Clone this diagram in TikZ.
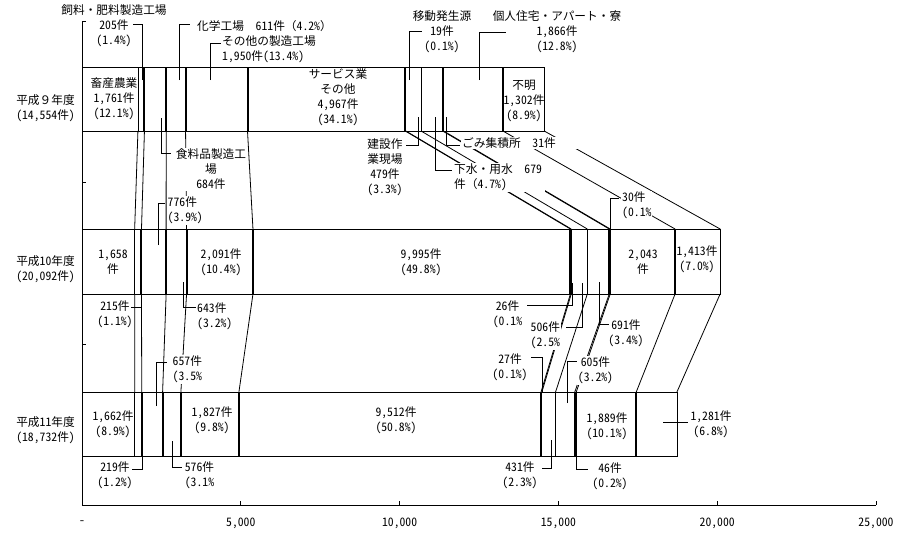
\documentclass[tikz,border=0pt]{standalone}
\usepackage{fontspec}
\setmainfont{Noto Sans CJK JP}[RawFeature=+hwid]
\newfontfamily\zen{Noto Sans CJK JP}

\begin{document}
\begin{tikzpicture}[x=1pt, y=-1pt,
    lbl/.style={font=\fontsize{11.7}{15}\selectfont, align=center, inner sep=1pt},
    mask/.style={lbl, fill=white},
    link/.style={line width=0.8pt},
    lead/.style={line width=0.8pt},
    septhin/.style={line width=0.8pt},
    sepbold/.style={line width=2pt},
    ]
    \useasboundingbox (0,0) rectangle (899,536);

    % bars: one coordinate pair per boundary (values in thousands)
    \foreach \v/\w [count=\i] in {0/septhin,1.761/septhin,1.966/sepbold,2.650/sepbold,3.261/sepbold,5.211/sepbold,10.178/sepbold,10.197/septhin,10.676/septhin,11.355/sepbold,11.386/septhin,13.252/sepbold,14.554/septhin}{
        \coordinate (h9t\i) at ({82+\v*31.76},67);
        \coordinate (h9b\i) at ({82+\v*31.76},131);
        \draw[\w] (h9t\i) -- (h9b\i);
    }
    \foreach \v/\w [count=\i] in {0/septhin,1.658/septhin,1.873/sepbold,2.649/sepbold,3.292/sepbold,5.383/sepbold,15.378/sepbold,15.404/septhin,15.910/septhin,16.601/sepbold,16.631/septhin,18.674/sepbold,20.092/septhin}{
        \coordinate (h10t\i) at ({82+\v*31.76},229);
        \coordinate (h10b\i) at ({82+\v*31.76},294);
        \draw[\w] (h10t\i) -- (h10b\i);
    }
    \foreach \v/\w [count=\i] in {0/septhin,1.662/septhin,1.881/sepbold,2.538/sepbold,3.114/sepbold,4.941/sepbold,14.453/sepbold,14.480/septhin,14.911/septhin,15.516/sepbold,15.562/septhin,17.451/sepbold,18.732/septhin}{
        \coordinate (h11t\i) at ({82+\v*31.76},392);
        \coordinate (h11b\i) at ({82+\v*31.76},456);
        \draw[\w] (h11t\i) -- (h11b\i);
    }
    \draw[septhin] (h9t1) rectangle (h9b13);
    \draw[septhin] (h10t1) rectangle (h10b13);
    \draw[septhin] (h11t1) rectangle (h11b13);

    % links between years
    \foreach \i in {2,...,13}{
        \draw[link] (h9b\i) -- (h10t\i);
        \draw[link] (h10b\i) -- (h11t\i);
    }

    % labels inside the bars
    \node[lbl] (i1761) at (114,99) {畜産農業\\1,761件\\(12.1\%)};
    \node[lbl] (i4967) at (338,97.5) {サービス業\\その他\\4,967件\\(34.1\%)};
    \node[lbl] (i1302) at (524,101) {不明\\1,302件\\(8.9\%)};
    \node[lbl] (i1658) at (113,262.5) {1,658\\件};
    \node[lbl] (i2091) at (221,262.5) {2,091件\\(10.4\%)};
    \node[lbl] (i9995) at (421,262.5) {9,995件\\(49.8\%)};
    \node[lbl] (i2043) at (643,262.5) {2,043\\件};
    \node[lbl] (i1413) at (697,259.5) {1,413件\\(7.0\%)};
    \node[lbl] (i1662) at (113,424.5) {1,662件\\(8.9\%)};
    \node[lbl] (i1827) at (212,420.5) {1,827件\\(9.8\%)};
    \node[lbl] (i9512) at (396,420.5) {9,512件\\(50.8\%)};
    \node[lbl] (i1889) at (607,426.5) {1,889件\\(10.1\%)};

    % labels outside the bars
    \node[mask] (t205) at (114,10) {飼料・肥料製造工場};
    \node[mask] (l205) at (114,33.5) {205件\\(1.4\%)};
    \node[mask, anchor=west] (l611) at (196,26) {化学工場{\zen　}611件{\zen（}4.2\%{\zen）}};
    \node[mask, anchor=west, align=left] (l1950) at (221,49.5) {その他の製造工場\\1,950件(13.4\%)};
    \node[mask] (l19) at (442,32) {移動発生源\\19件\\(0.1\%)};
    \node[mask] (l1866) at (557,32) {個人住宅・アパート・寮\\1,866件\\(12.8\%)};
    \node[mask] (l479) at (385,167.5) {建設作\\業現場\\479件\\(3.3\%)};
    \node[mask, anchor=west, align=left, text width=118pt] (l31) at (461,143) {ごみ集積所{\zen　}31件};
    \node[mask, anchor=west, align=left, text width=90pt] (l679) at (453,177.5) {下水・用水{\zen　}679\\件{\zen（}4.7\%)};
    \node[mask] (l684) at (211,169.5) {食料品製造工\\場\\684件};
    \node[mask, anchor=west, align=left] (l776) at (166.5,210.5) {776件\\(3.9\%)};
    \node[mask, anchor=west, align=left] (l30) at (621,205.5) {30件\\(0.1\%};
    \node[mask] (l215) at (115,314.5) {215件\\(1.1\%)};
    \node[mask, anchor=west, align=left] (l643) at (196,316.5) {643件\\(3.2\%)};
    \node[mask] (l26) at (507.5,314.5) {26件\\(0.1\%};
    \node[mask, anchor=west, align=left] (l506) at (529.5,335.5) {506件\\(2.5\%};
    \node[mask] (l691) at (626,333.5) {691件\\(3.4\%)};
    \node[mask] (l27) at (510,367.5) {27件\\(0.1\%)};
    \node[mask, anchor=west, align=left] (l657) at (171.5,369.5) {657件\\(3.5\%};
    \node[mask] (l605) at (595.5,370.5) {605件\\(3.2\%)};
    \node[mask] (l1281) at (711,424.5) {1,281件\\(6.8\%)};
    \node[mask] (l219) at (115,475.5) {219件\\(1.2\%)};
    \node[mask] (l576) at (199.5,475.5) {576件\\(3.1\%};
    \node[mask] (l431) at (520,475.5) {431件\\(2.3\%)};
    \node[mask] (l46) at (610,476.5) {46件\\(0.2\%)};

    % leaders: bar end, label end
    \foreach \n/\bx/\by/\ex/\ey in {205/142/80/133/24, 611/179/80/190/24, 1950/210/80/221/43,
        19/409/80/422/31, 1866/479/80/506/32, 479/418/117/406/145, 679/435/117/452/170,
        31/446/117/460/145, 684/161/118/171/153, 776/158/245/165/203, 30/610/229/619/198,
        215/141/307/131/307, 643/183/282/196/307, 26/572/283/527/305, 506/582/283/566/327,
        691/599/282/609/324, 657/156/406/167/362, 27/542/392/531/357, 605/567/403/577/361,
        1281/663/422/688/422, 219/142/456/132/469, 576/172/441/182/467, 431/551/440/542/468,
        46/576/456/588/469}{
        \coordinate (k\n) at (\bx,\by);
        \coordinate (e\n) at (\ex,\ey);
        \draw[lead] (k\n) |- (e\n);
    }

    % axes
    \coordinate (ytop) at (82,21);
    \coordinate (o) at (82,505);
    \coordinate (xend) at (876,505);
    \draw[septhin] (ytop) -- (o) -- (xend);
    \foreach \y in {21,182,344}
        \draw[septhin] (82,\y) -- (86,\y);
    \foreach \v/\t in {0/-,5/{5,000},10/{10,000},15/{15,000},20/{20,000},25/{25,000}}{
        \draw[septhin] ({82+\v*31.76},505) -- ({82+\v*31.76},501);
        \node[lbl] (x\v) at ({82+\v*31.76},523) {\t};
    }

    % year labels
    \node[lbl, anchor=east, align=right] (y9) at (76,108.5) {平成{\zen ９}年度\\(14,554件)};
    \node[lbl, anchor=east, align=right] (y10) at (76,269.5) {平成10年度\\(20,092件)};
    \node[lbl, anchor=east, align=right] (y11) at (76,430.5) {平成11年度\\(18,732件)};
\end{tikzpicture}
\end{document}
